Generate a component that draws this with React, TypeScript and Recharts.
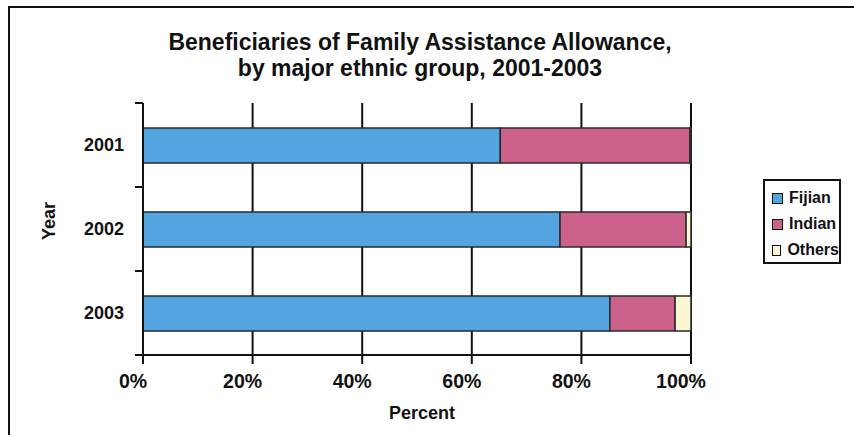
import React from 'react'
import { BarChart, Bar, XAxis, YAxis, CartesianGrid, Legend } from 'recharts'

const years = ['2001', '2002', '2003']
const fijian = [65.2, 76.1, 85.2]
const indian = [34.6, 23.0, 11.9]
const others = [0.2, 0.9, 2.9]
const percentTicks = [0, 20, 40, 60, 80, 100]

const series = [
  { key: 'Fijian', color: '#52a5e0' },
  { key: 'Indian', color: '#cc628c' },
  { key: 'Others', color: '#fbf7d2' },
]

const data = years.map((year, i) => ({
  year,
  Fijian: fijian[i],
  Indian: indian[i],
  Others: others[i],
}))

const W = 854
const H = 435
const PLOT_LEFT = 143
const PLOT_TOP = 103
const PLOT_BOTTOM = 355
const PLOT_RIGHT = 691
const BAND = (PLOT_BOTTOM - PLOT_TOP) / years.length
const FONT = '"Liberation Sans", Arial, sans-serif'
const INK = '#111'

function YearTick({ y, payload, index }: any) {
  const half = BAND / 2
  return (
    <g>
      <line x1={PLOT_LEFT - 8} x2={PLOT_LEFT} y1={y - half} y2={y - half} stroke={INK} strokeWidth={2} />
      {index === years.length - 1 && (
        <line x1={PLOT_LEFT - 8} x2={PLOT_LEFT} y1={y + half} y2={y + half} stroke={INK} strokeWidth={2} />
      )}
      <text x={PLOT_LEFT - 19} y={y} dy={6} textAnchor="end" fontSize={18} fontWeight={700} fontFamily={FONT} fill={INK}>
        {payload.value}
      </text>
    </g>
  )
}

function PercentTick({ x, payload }: any) {
  return (
    <text x={x - 10} y={388} textAnchor="middle" fontSize={19.5} fontWeight={700} fontFamily={FONT} fill={INK}>
      {`${payload.value}%`}
    </text>
  )
}

function LegendBox() {
  return (
    <div style={{
      width: 74, height: 77, border: `2px solid ${INK}`, background: '#fff',
      boxSizing: 'content-box', paddingTop: 4, fontFamily: FONT,
    }}>
      {series.map(s => (
        <div key={s.key} style={{ display: 'flex', alignItems: 'center', height: 26, paddingLeft: 7 }}>
          <span style={{ width: 9, height: 9, background: s.color, border: `1.5px solid ${INK}`, marginRight: 6 }} />
          <span style={{ fontSize: 16, fontWeight: 700, color: INK }}>{s.key}</span>
        </div>
      ))}
    </div>
  )
}

export default function App() {
  return (
    <div style={{ position: 'absolute', left: 0, top: 0, width: W, height: H, background: '#fff', overflow: 'hidden' }}>
      {/* cropped frame: only left and top edges show */}
      <div style={{
        position: 'absolute', left: 8, top: 6, width: W, height: H,
        borderLeft: `2px solid ${INK}`, borderTop: `2px solid ${INK}`,
      }} />
      <div style={{
        position: 'absolute', left: 0, top: 29, width: 840, textAlign: 'center',
        fontFamily: FONT, fontWeight: 700, fontSize: 23, lineHeight: '26px', color: INK,
      }}>
        Beneficiaries of Family Assistance Allowance,<br />by major ethnic group, 2001-2003
      </div>
      <div style={{ position: 'absolute', left: 0, top: 0 }}>
        <BarChart
          width={W}
          height={H}
          data={data}
          layout="vertical"
          barSize={35}
          margin={{ top: PLOT_TOP, right: W - PLOT_RIGHT, bottom: 20, left: 33 }}
        >
          <CartesianGrid horizontal={false} stroke={INK} strokeWidth={2} />
          <XAxis
            type="number"
            domain={[0, 100]}
            ticks={percentTicks}
            interval={0}
            height={H - PLOT_BOTTOM - 20}
            axisLine={{ stroke: INK, strokeWidth: 2 }}
            tickLine={{ stroke: INK, strokeWidth: 2 }}
            tickSize={9}
            tick={<PercentTick />}
            label={({ viewBox }: any) => (
              <text x={viewBox.x + viewBox.width / 2 + 5} y={419} textAnchor="middle" fontSize={18} fontWeight={700} fontFamily={FONT} fill={INK}>
                Percent
              </text>
            )}
          />
          <YAxis
            type="category"
            dataKey="year"
            width={110}
            axisLine={{ stroke: INK, strokeWidth: 2 }}
            tickLine={false}
            tickSize={0}
            tick={<YearTick />}
            label={() => (
              <text x={49} y={221} transform="rotate(-90 49 221)" dy={6} textAnchor="middle" fontSize={18} fontWeight={700} fontFamily={FONT} fill={INK}>
                Year
              </text>
            )}
          />
          <Legend
            layout="horizontal"
            verticalAlign="middle"
            align="center"
            content={<LegendBox />}
            wrapperStyle={{ position: 'absolute', left: 763, top: 179, width: 'auto' }}
          />
          {series.map(s => (
            <Bar
              key={s.key}
              dataKey={s.key}
              stackId="a"
              fill={s.color}
              stroke="#2a2a2a"
              strokeWidth={1.5}
              isAnimationActive={false}
            />
          ))}
        </BarChart>
      </div>
    </div>
  )
}
